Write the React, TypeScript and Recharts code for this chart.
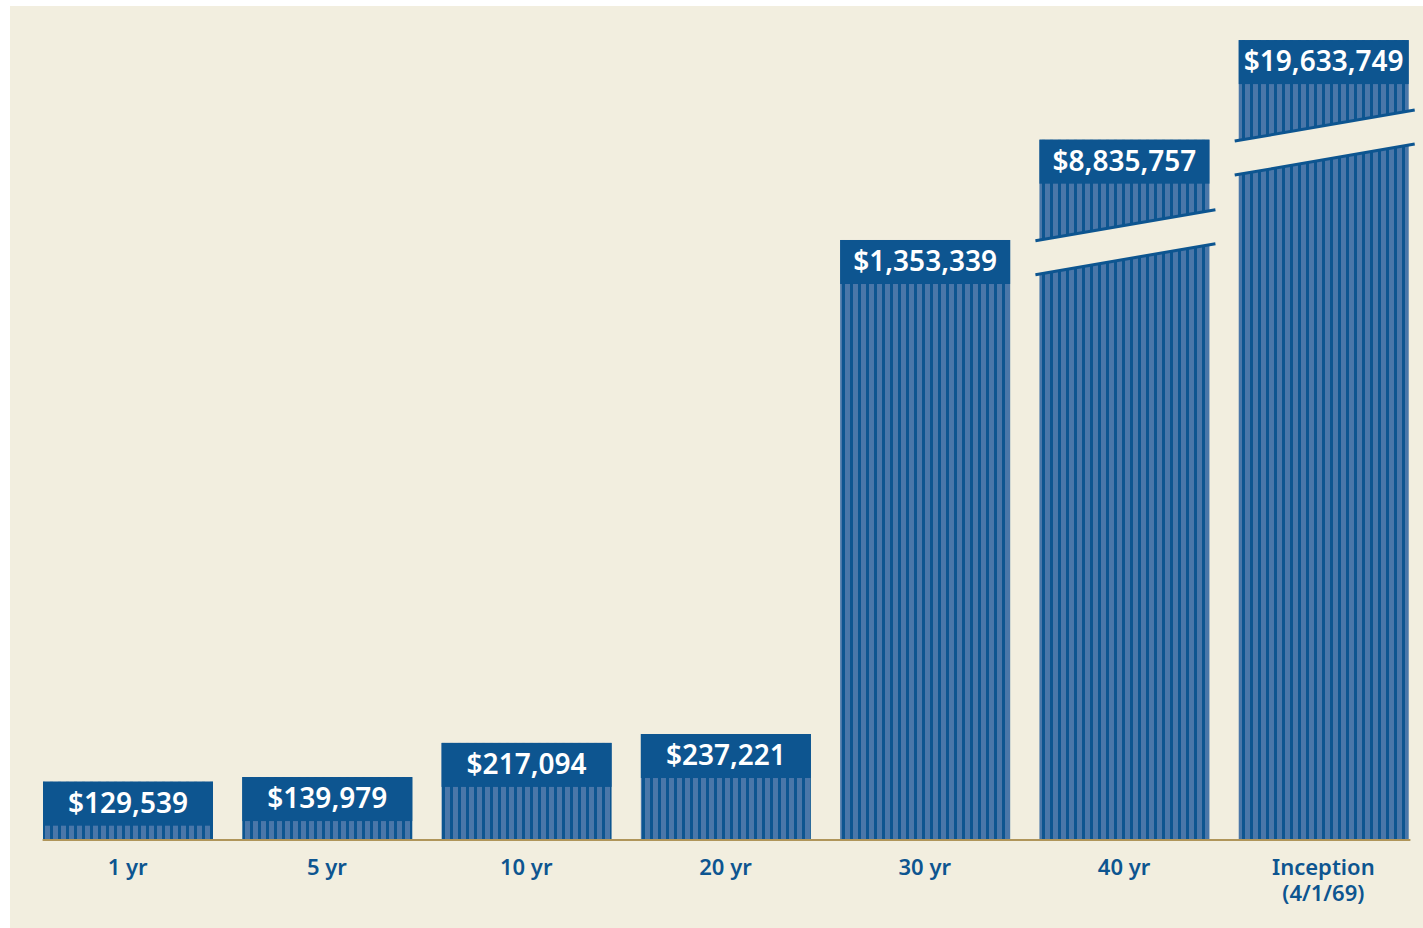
import React from 'react';
import { BarChart, Bar, XAxis, YAxis, LabelList, ReferenceLine } from 'recharts';

// Periods shown on the x axis
const PERIODS = ['1 yr', '5 yr', '10 yr', '20 yr', '30 yr', '40 yr', 'Inception\n(4/1/69)'];

// Ending value of the investment for each period (shown in the label boxes)
const ENDING_VALUES = [129539, 139979, 217094, 237221, 1353339, 8835757, 19633749];

// Height the bar is drawn at (the last two bars are broken / not to scale)
const DRAWN_VALUES = [129539, 139979, 217094, 237221, 1353339, 1580000, 1805000];

// Which bars get the "axis break" mark
const BROKEN = [false, false, false, false, false, true, true];

const BG = '#f2eedf';
const DARK = '#0d5590';
const LIGHT = '#4a77a9';
const AXIS = '#b0955a';
const FONT = '"Noto Sans", "Open Sans", sans-serif';

const chartData = PERIODS.map((period, i) => ({
    period,
    value: ENDING_VALUES[i],
    plot: DRAWN_VALUES[i],
    broken: BROKEN[i],
}));

const formatMoney = (v: number) => '$' + v.toLocaleString('en-US');

const StripedBar = (props: any) => {
    const { x, y, width, height, payload } = props;
    if (!height || height <= 0) return null;
    const left = x - 4;
    const right = x + width + 6;
    return (
        <g>
            <rect x={x} y={y} width={width} height={height} fill="url(#stripes)" />
            {payload && payload.broken && (
                <g>
                    <polygon
                        points={`${left},${y + 101} ${right},${y + 70} ${right},${y + 104} ${left},${y + 135}`}
                        fill={BG}
                    />
                    <line x1={left} y1={y + 101} x2={right} y2={y + 70} stroke={DARK} strokeWidth={3} />
                    <line x1={left} y1={y + 135} x2={right} y2={y + 104} stroke={DARK} strokeWidth={3} />
                </g>
            )}
        </g>
    );
};

const ValueBox = (props: any) => {
    const vb = props.viewBox || {};
    const x = props.x ?? vb.x;
    const y = props.y ?? vb.y;
    const width = props.width ?? vb.width;
    const value = props.value;
    return (
        <g>
            <rect x={x} y={y} width={width} height={44} fill={DARK} />
            <text
                x={x + width / 2}
                y={y + 20}
                textAnchor="middle"
                dominantBaseline="central"
                fill="#ffffff"
                fontFamily={FONT}
                fontWeight={600}
                fontSize={28}
            >
                {formatMoney(Number(value))}
            </text>
        </g>
    );
};

const PeriodTick = (props: any) => {
    const { x, y, payload } = props;
    const lines = String(payload.value).split('\n');
    return (
        <g>
            {lines.map((line, i) => (
                <text
                    key={i}
                    x={x}
                    y={y + 28 + i * 26}
                    textAnchor="middle"
                    fill={DARK}
                    fontFamily={FONT}
                    fontWeight={600}
                    fontSize={22}
                >
                    {line}
                </text>
            ))}
        </g>
    );
};

const App: React.FC = () => {
    return (
        <div style={{ position: 'absolute', left: 10, top: 6, width: 1413, height: 922, background: BG }}>
            <BarChart
                width={1413}
                height={922}
                data={chartData}
                margin={{ top: 27, right: 0, bottom: 29, left: 18 }}
            >
                <defs>
                    <pattern id="stripes" patternUnits="userSpaceOnUse" width={8} height={10}>
                        <rect x={0} y={0} width={8} height={10} fill={LIGHT} />
                        <rect x={0} y={0} width={3} height={10} fill={DARK} />
                    </pattern>
                </defs>
                <XAxis
                    dataKey="period"
                    axisLine={false}
                    tickLine={false}
                    interval={0}
                    height={60}
                    tick={<PeriodTick />}
                />
                <YAxis hide domain={[0, 1821000]} />
                <Bar dataKey="plot" barSize={170} shape={<StripedBar />} isAnimationActive={false}>
                    <LabelList dataKey="value" content={<ValueBox />} />
                </Bar>
                <ReferenceLine
                    y={0}
                    shape={(p: any) => (
                        <line
                            x1={p.x1 + 14.6}
                            y1={p.y1 + 1}
                            x2={p.x2 - 12.6}
                            y2={p.y2 + 1}
                            stroke={AXIS}
                            strokeWidth={2}
                        />
                    )}
                />
            </BarChart>
        </div>
    );
};

export default App;
